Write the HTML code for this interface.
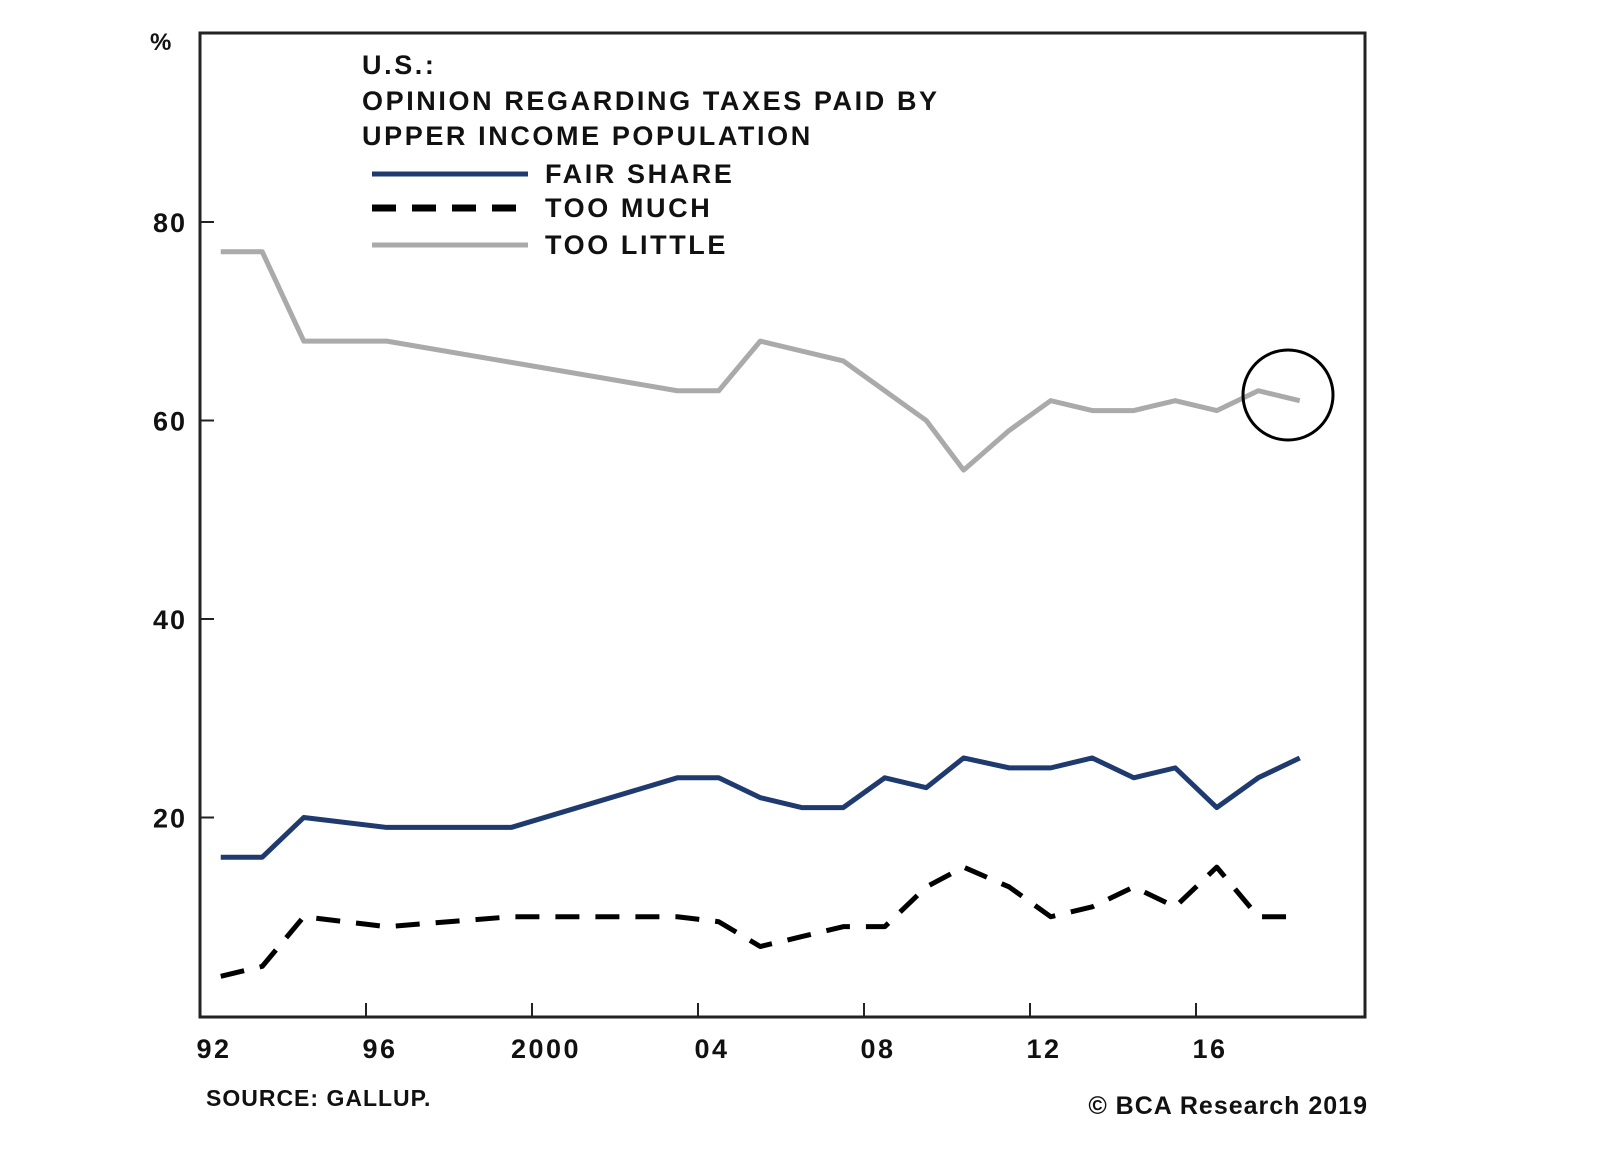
<!DOCTYPE html>
<html><head><meta charset="utf-8"><style>
body{margin:0;background:#fff;width:1600px;height:1150px;overflow:hidden}
svg text{font-family:"Liberation Sans",Arial,sans-serif;font-weight:bold;fill:#111}
.w{letter-spacing:2.6px}
</style></head><body>
<svg id="chart" width="1600" height="1150" xmlns="http://www.w3.org/2000/svg">
<rect x="200" y="33" width="1165" height="984" fill="none" stroke="#222" stroke-width="3"/>
<text x="150" y="50" font-size="24">%</text>
<text class="w" x="362" y="74" font-size="27">U.S.:</text>
<text class="w" x="362" y="110" font-size="27">OPINION REGARDING TAXES PAID BY</text>
<text class="w" x="362" y="145" font-size="27">UPPER INCOME POPULATION</text>
<g>
<line x1="372" y1="174" x2="528" y2="174" stroke="#1f3a6e" stroke-width="5"/>
<text class="w" x="545" y="183" font-size="27">FAIR SHARE</text>
<line x1="372" y1="208" x2="528" y2="208" stroke="#000" stroke-width="7" stroke-dasharray="24,16"/>
<text class="w" x="545" y="217" font-size="27">TOO MUCH</text>
<line x1="372" y1="245" x2="528" y2="245" stroke="#aaa" stroke-width="5"/>
<text class="w" x="545" y="254" font-size="27">TOO LITTLE</text>
</g>
<g id="axes"></g>
<g id="series"></g>
<circle cx="1288" cy="395" r="45" fill="none" stroke="#000" stroke-width="3"/>
<text x="206" y="1106" font-size="23" letter-spacing="1">SOURCE: GALLUP.</text>
<text x="1368" y="1114" font-size="25" letter-spacing="1" text-anchor="end">© BCA Research 2019</text>
</svg>
<script>
const yTicks=[20,40,60,80];
const xTickYears=[1992,1996,2000,2004,2008,2012,2016];
const xTickLabels=["92","96","2000","04","08","12","16"];
const yearsLittle=[1992.5,1993.5,1994.5,1996.5,2003.5,2004.5,2005.5,2007.5,2009.5,2010.4,2011.5,2012.5,2013.5,2014.5,2015.5,2016.5,2017.5,2018.5];
const tooLittle=[77,77,68,68,63,63,68,66,60,55,59,62,61,61,62,61,63,62];
const yearsOther=[1992.5,1993.5,1994.5,1996.5,1999.5,2003.5,2004.5,2005.5,2006.5,2007.5,2008.5,2009.5,2010.4,2011.5,2012.5,2013.5,2014.5,2015.5,2016.5,2017.5,2018.5];
const fairShare=[16,16,20,19,19,24,24,22,21,21,24,23,26,25,25,26,24,25,21,24,26];
const tooMuch=[4,5,10,9,10,10,9.5,7,8,9,9,13,15,13,10,11,13,11,15,10,10];
const NS="http://www.w3.org/2000/svg";
const X=y=>200+(y-1992)*41.5;
const Y=v=>1016-v*9.925;
const axes=document.getElementById('axes'),series=document.getElementById('series');
function mk(t,a,p){const e=document.createElementNS(NS,t);for(const k in a)e.setAttribute(k,a[k]);p.appendChild(e);return e;}
yTicks.forEach(v=>{
 const l=mk('line',{x1:200,x2:214,y1:Y(v),y2:Y(v),stroke:'#222','stroke-width':2},axes);
 
 
 const t=mk('text',{x:187,y:Y(v)+10,'font-size':27,'text-anchor':'end','letter-spacing':2},axes);t.textContent=v;
 
 
});
xTickYears.forEach((yr,i)=>{
 const l=mk('line',{x1:X(yr),x2:X(yr),y1:1017,y2:1003,stroke:'#222','stroke-width':2},axes);
 
 
 const t=mk('text',{x:X(yr)+14,y:1058,'font-size':27,'text-anchor':'middle','letter-spacing':2.5},axes);t.textContent=xTickLabels[i];
 
 
});
function line(xs,vs,attrs,name){
 const d=xs.map((x,i)=>(i?'L':'M')+X(x)+','+Y(vs[i])).join(' ');
 const p=mk('path',Object.assign({d:d,fill:'none','stroke-linejoin':'round'},attrs),series);
 
 
}
line(yearsLittle,tooLittle,{stroke:'#aaa','stroke-width':5},'too-little-line');
line(yearsOther,fairShare,{stroke:'#1f3a6e','stroke-width':5},'fair-share-line');
line(yearsOther,tooMuch,{stroke:'#000','stroke-width':5,'stroke-dasharray':'24,16'},'too-much-line');
</script>
</body></html>
